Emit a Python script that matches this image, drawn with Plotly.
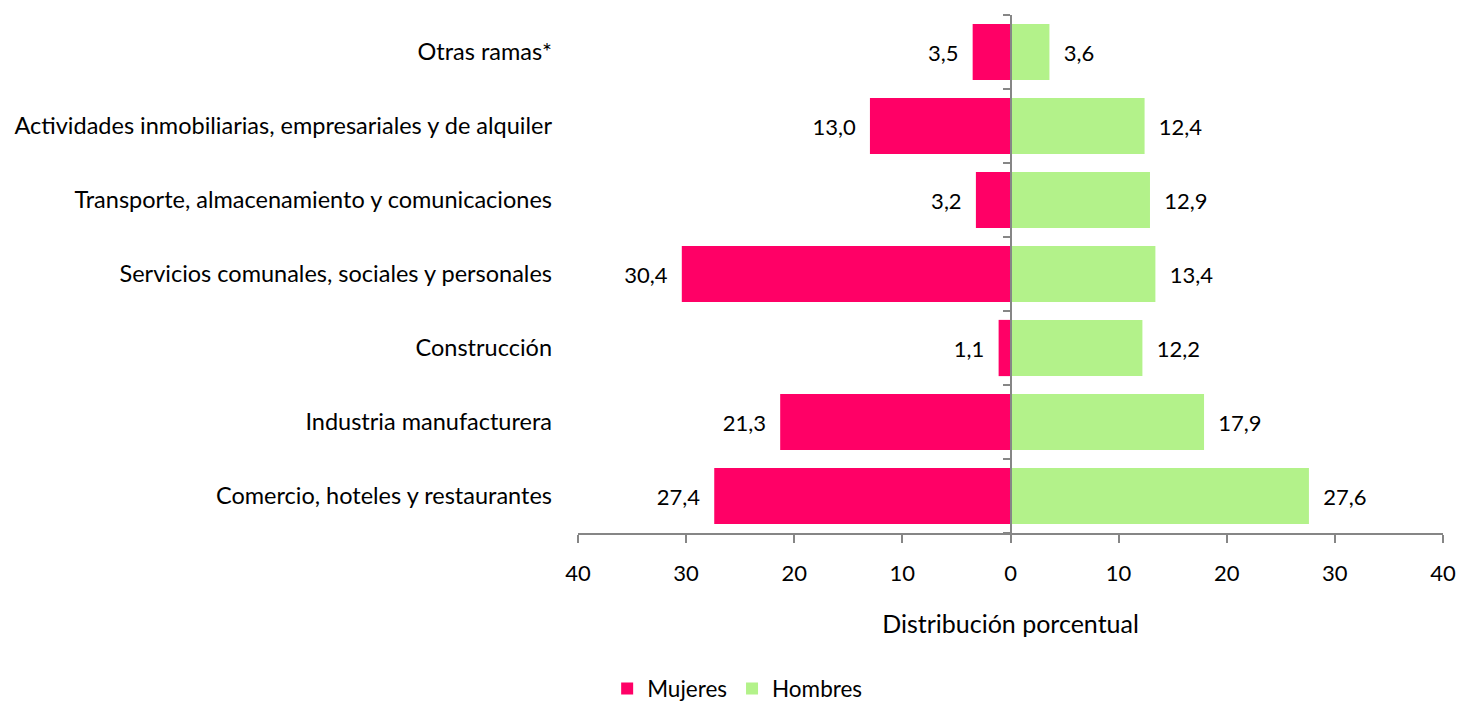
"""
distribución porcentual por rama de actividad, mujeres y hombres
"""
import plotly.graph_objects as go

# categories from bottom to top (plotly draws the first one at the bottom)
ramas = ['Comercio, hoteles y restaurantes',
         'Industria manufacturera',
         'Construcción',
         'Servicios comunales, sociales y personales',
         'Transporte, almacenamiento y comunicaciones',
         'Actividades inmobiliarias, empresariales y de alquiler',
         'Otras ramas*']
mujeres = [27.4, 21.3, 1.1, 30.4, 3.2, 13.0, 3.5]
hombres = [27.6, 17.9, 12.2, 13.4, 12.9, 12.4, 3.6]

tick_vals = [-40, -30, -20, -10, 0, 10, 20, 30, 40]
tick_text = ['40', '30', '20', '10', '0', '10', '20', '30', '40']

FONT = 'Lato, Carlito, Calibri, sans-serif'
PAD = '\u00a0' * 2
GREY = '#868686'


def fmt(v: float) -> str:
    """Number with a decimal comma."""
    return f'{v:.1f}'.replace('.', ',')


fig = go.Figure()
fig.add_trace(go.Bar(y=ramas, x=[-v for v in mujeres], orientation='h', name='Mujeres',
                     marker=dict(color='#FF0066', line=dict(width=0)),
                     text=[fmt(v) + PAD for v in mujeres], textposition='outside',
                     cliponaxis=False, textfont=dict(size=22, color='#000000')))
fig.add_trace(go.Bar(y=ramas, x=hombres, orientation='h', name='Hombres',
                     marker=dict(color='#B3F28A', line=dict(width=0)),
                     text=[PAD + fmt(v) for v in hombres], textposition='outside',
                     cliponaxis=False, textfont=dict(size=22, color='#000000')))
# invisible trace that carries the category ticks on the zero line
fig.add_trace(go.Scatter(y=ramas, x=[0] * len(ramas), yaxis='y2', mode='markers',
                         marker=dict(opacity=0), showlegend=False, hoverinfo='skip'))

fig.update_layout(
    width=1459, height=703,
    margin=dict(l=578, r=16, t=15, b=170, autoexpand=False),
    barmode='overlay', bargap=0.24,
    plot_bgcolor='white', paper_bgcolor='white',
    font=dict(family=FONT, size=22, color='#000000'),
    legend=dict(orientation='h', x=0.184, xanchor='center', yref='container',
                y=0.02, yanchor='middle', font=dict(size=22.5), traceorder='normal'),
    yaxis2=dict(overlaying='y', matches='y', anchor='free', position=0.5, side='left',
                type='category', categoryorder='array', categoryarray=ramas,
                showticklabels=False, showgrid=False, showline=True, linecolor=GREY,
                linewidth=1.5, ticks='outside', tickson='boundaries', ticklen=7,
                tickcolor=GREY, tickwidth=1.5, automargin=False),
)
fig.update_xaxes(range=[-40, 40], tickvals=tick_vals, ticktext=tick_text, automargin=False,
                 showgrid=False, zeroline=False,
                 showline=True, linecolor=GREY, linewidth=1.5,
                 ticks='outside', ticklen=8, tickcolor=GREY, tickwidth=1.5,
                 ticklabelstandoff=12, tickfont=dict(size=22),
                 title=dict(text='Distribución porcentual', font=dict(size=25), standoff=30))
fig.update_yaxes(selector=dict(overlaying=None), categoryorder='array', categoryarray=ramas,
                 automargin=False, showgrid=False, showline=False, ticks='',
                 ticklabelstandoff=25, tickfont=dict(size=23.5))

# drop the default page margin so the figure fills the window exactly
fig.write_html("out.html", config=dict(displayModeBar=False),
               post_script="document.body.style.margin='0';document.body.style.overflow='hidden';")
